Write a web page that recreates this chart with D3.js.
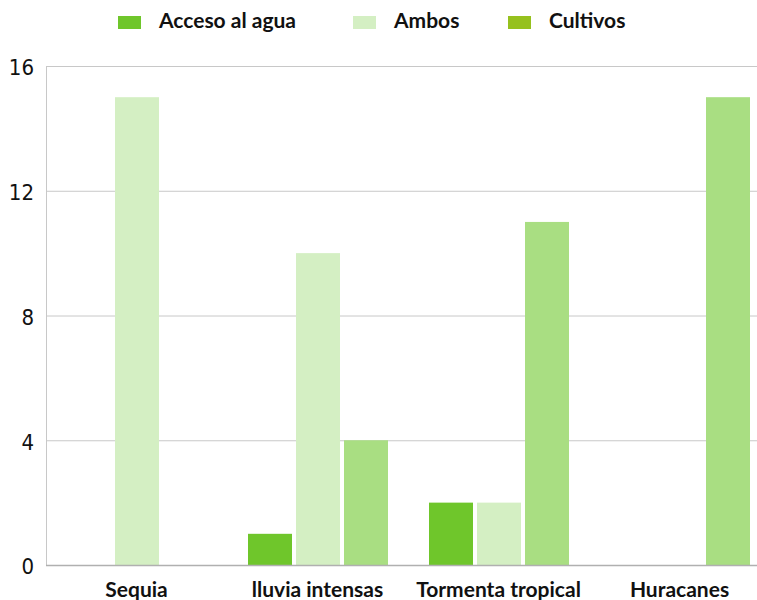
<!DOCTYPE html>
<html><head><meta charset="utf-8">
<script src="https://cdn.jsdelivr.net/npm/d3@7"></script>
<style>body{margin:0;background:#fff}svg{display:block}</style>
</head><body>
<svg id="c" width="757" height="600"></svg>
<script>
const categories = ["Sequia", "lluvia intensas", "Tormenta tropical", "Huracanes"];
const series = ["Acceso al agua", "Ambos", "Cultivos"];
const accesoValues = [0, 1, 2, 0];
const ambosValues = [15, 10, 2, 0];
const cultivosValues = [0, 4, 11, 15];
const yTicks = [0, 4, 8, 12, 16];
const barColors = ["#6fc62b", "#d4efc3", "#a9de82"];
const legendColors = ["#6fc62b", "#d4efc3", "#96c11e"];

(function () {
const valuesBySeries = [accesoValues, ambosValues, cultivosValues];
const data = categories.map((c, i) => ({cat: c, vals: series.map((s, j) => ({s, v: valuesBySeries[j][i], j}))}));

const svg = d3.select("#c");
const mLeft = 46, mTop = 66, mBottom = 565;
const labelFont = "Lato";
const x0 = d3.scaleBand().domain(categories).range([mLeft, mLeft + 4 * 181]).padding(0);
const x1 = d3.scaleBand().domain(series).range([19, 163]).paddingInner(4 / 48).paddingOuter(2 / 48);
const y = d3.scaleLinear().domain([0, 16]).range([mBottom, mTop]);

svg.append("g").selectAll("line").data(yTicks.filter(t => t > 0)).join("line")
  .attr("x1", mLeft).attr("x2", 757).attr("y1", d => y(d) + 0.5).attr("y2", d => y(d) + 0.5)
  .attr("stroke", "#c8c8c8").attr("stroke-width", 1);
svg.append("line").attr("x1", mLeft + 0.5).attr("x2", mLeft + 0.5).attr("y1", mTop).attr("y2", mBottom)
  .attr("stroke", "#c8c8c8");

const g = svg.append("g").selectAll("g").data(data).join("g")
  .attr("transform", d => `translate(${x0(d.cat)},0)`);
g.selectAll("rect").data(d => d.vals).join("rect")
  .attr("x", d => x1(d.s)).attr("width", x1.bandwidth())
  .attr("y", d => y(d.v)).attr("height", d => y(0) - y(d.v))
  .attr("fill", d => barColors[d.j]);

svg.append("line").attr("x1", mLeft).attr("x2", 757).attr("y1", mBottom + 0.5).attr("y2", mBottom + 0.5)
  .attr("stroke", "#b0b0b0").attr("stroke-width", 1.5);

const yAxis = d3.axisLeft(y).tickValues(yTicks).tickSize(0).tickPadding(0);
const ya = svg.append("g").attr("transform", `translate(34,0)`).call(yAxis);
ya.select(".domain").remove();
ya.selectAll("text").attr("font-family", "DejaVu Sans Condensed, DejaVu Sans").attr("font-size", 22)
  .attr("fill", "#111").attr("dy", "0.4em");

const xAxis = d3.axisBottom(x0).tickSize(0).tickPadding(0);
const xa = svg.append("g").attr("transform", `translate(0,${mBottom + 12})`).call(xAxis);
xa.select(".domain").remove();
xa.selectAll("text").attr("font-family", labelFont).attr("font-weight", 700)
  .attr("font-size", 21).attr("fill", "#111").attr("dy", "0.95em");

const legX = [118, 353, 508];
const leg = svg.append("g").selectAll("g").data(series).join("g")
  .attr("transform", (d, i) => `translate(${legX[i]},0)`);
leg.append("rect").attr("x", 0).attr("y", 16).attr("width", 23).attr("height", 13)
  .attr("fill", (d, i) => legendColors[i]);
leg.append("text").attr("x", 41).attr("y", 28).text(d => d)
  .attr("font-family", labelFont).attr("font-weight", 700)
  .attr("font-size", 21).attr("fill", "#111");
})();
</script>
</body></html>
